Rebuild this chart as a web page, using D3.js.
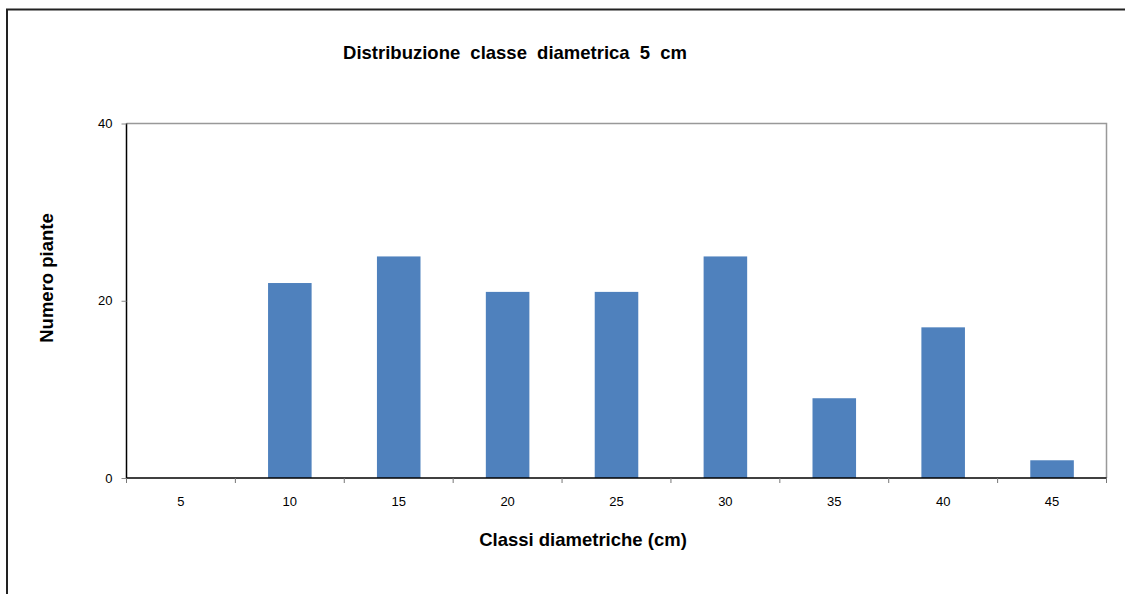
<!DOCTYPE html>
<html lang="it">
    <head>
        <meta charset="utf-8">
        <title>distribuzione_classi</title>
        <script type="text/javascript" src="https://cdn.jsdelivr.net/npm/d3@7"></script>
        <style>
            body { margin: 0; background: #fff; }
            text { font-family: "Liberation Sans", Arial, sans-serif; }
        </style>
    </head>

    <body>
        <script type="text/javascript">
        var w = 1125;
        var h = 594;

        // data
        var classi = ["5", "10", "15", "20", "25", "30", "35", "40", "45"];
        var piante = [0, 22, 25, 21, 21, 25, 9, 17, 2];
        var yTicks = [0, 20, 40];

        // plot area (not "top": that is window.top)
        var pLeft = 126.5, pRight = 1106.5, pTop = 123.5, pBottom = 478;

        var xScale = d3.scaleBand()
                    .domain(classi)
                    .range([pLeft, pRight]);

        var yScale = d3.scaleLinear()
                    .domain([0, 40])
                    .range([pBottom, pTop]);

        var barW = xScale.bandwidth() * 0.4;

        var svg = d3.select("body")
                    .append("svg")
                    .attr("width", w)
                    .attr("height", h);

        // outer frame (runs off the right and bottom edges)
        svg.append("rect")
            .attr("x", 7)
            .attr("y", 9.5)
            .attr("width", 1130)
            .attr("height", 600)
            .attr("fill", "none")
            .attr("stroke", "#222")
            .attr("stroke-width", 2);

        // plot border top and right, grey
        svg.append("path")
            .attr("d", "M" + pLeft + "," + pTop + "H" + pRight + "V" + pBottom)
            .attr("fill", "none")
            .attr("stroke", "#999")
            .attr("stroke-width", 1.5);

        // bars
        svg.selectAll("rect.bar")
            .data(piante)
            .enter()
            .append("rect")
            .attr("class", "bar")
            .attr("x", function(d, i){ return xScale(classi[i]) + (xScale.bandwidth() - barW) / 2; })
            .attr("y", function(d){ return yScale(d); })
            .attr("width", barW)
            .attr("height", function(d){ return pBottom - yScale(d); })
            .attr("fill", "#4F81BD");

        // y axis
        var yAxis = d3.axisLeft(yScale).tickValues(yTicks).tickSize(5).tickPadding(9);
        var gy = svg.append("g")
            .attr("transform", "translate(" + pLeft + ",0)")
            .call(yAxis);
        gy.select(".domain").attr("stroke", "#000").attr("stroke-width", 1.5)
            .attr("d", "M0," + pTop + "V" + pBottom);
        gy.selectAll(".tick line").attr("stroke", "#888");
        gy.selectAll(".tick text")
            .attr("font-size", "13px")
            .attr("font-family", "Liberation Sans, Arial, sans-serif")
            .attr("fill", "#000");

        // x axis: ticks on band boundaries, labels in band centres
        var gx = svg.append("g");
        gx.append("line")
            .attr("x1", pLeft).attr("x2", pRight)
            .attr("y1", pBottom).attr("y2", pBottom)
            .attr("stroke", "#000")
            .attr("stroke-width", 1.5);
        var edges = classi.map(function(c){ return xScale(c); }).concat([pRight]);
        gx.selectAll("line.tk")
            .data(edges)
            .enter()
            .append("line")
            .attr("class", "tk")
            .attr("x1", function(d){ return d; })
            .attr("x2", function(d){ return d; })
            .attr("y1", pBottom)
            .attr("y2", pBottom + 5)
            .attr("stroke", "#777");
        gx.selectAll("text")
            .data(classi)
            .enter()
            .append("text")
            .text(function(d){ return d; })
            .attr("x", function(d){ return xScale(d) + xScale.bandwidth() / 2; })
            .attr("y", 506)
            .attr("text-anchor", "middle")
            .attr("font-size", "13px")
            .attr("fill", "#000");

        // titles
        svg.append("text")
            .text("Distribuzione classe diametrica 5 cm")
            .attr("x", 515)
            .attr("y", 59)
            .attr("text-anchor", "middle")
            .attr("font-size", "18.5px")
            .attr("font-weight", "bold")
            .attr("word-spacing", "5px");

        svg.append("text")
            .text("Classi diametriche (cm)")
            .attr("x", 583)
            .attr("y", 546)
            .attr("text-anchor", "middle")
            .attr("font-size", "18.5px")
            .attr("font-weight", "bold");

        svg.append("text")
            .text("Numero piante")
            .attr("transform", "translate(53,278) rotate(-90)")
            .attr("text-anchor", "middle")
            .attr("font-size", "18.5px")
            .attr("font-weight", "bold");
        </script>
    </body>
</html>
